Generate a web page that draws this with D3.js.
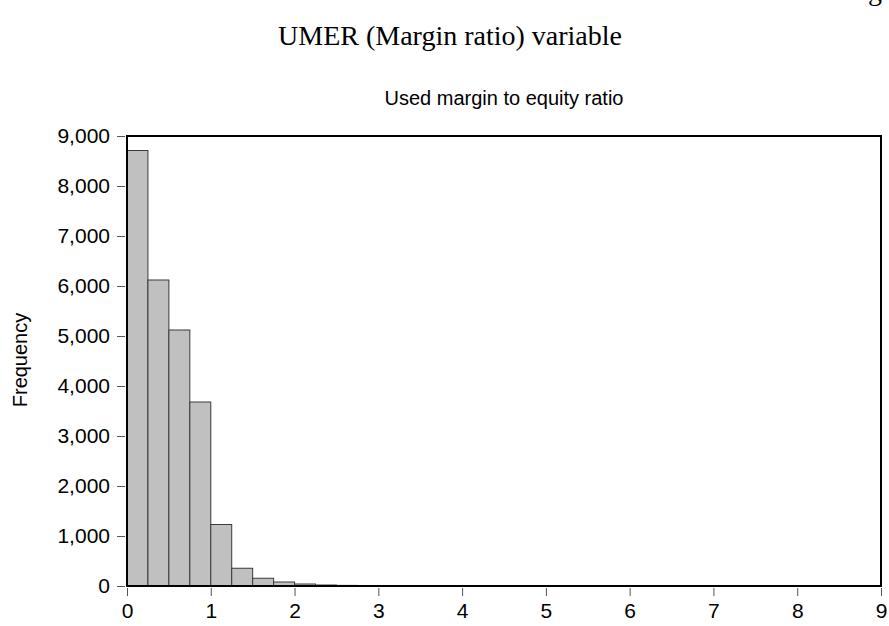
<!DOCTYPE html>
<html><head><meta charset="utf-8">
<script src="https://cdn.jsdelivr.net/npm/d3@7"></script>
<style>body{margin:0;background:#fff}svg{display:block}</style>
</head><body>
<svg id="c" width="889" height="626"></svg>
<script>
const binStarts = [0,0.25,0.5,0.75,1,1.25,1.5,1.75,2,2.25,2.5,2.75,3,3.25,3.5,3.75,4,4.25,4.5,4.75,5,5.25,5.5,5.75,6,6.25,6.5,6.75,7,7.25,7.5,7.75,8,8.25,8.5];
const counts =    [8710,6120,5120,3680,1230,355,155,80,40,20,12,8,5,4,3,3,2,2,2,1,2,1,1,2,1,1,1,1,1,1,1,1,1,1,1];
const binWidth = 0.25;
const xTicks = [0,1,2,3,4,5,6,7,8,9];
const yTicks = [0,1000,2000,3000,4000,5000,6000,7000,8000,9000];
const title = "UMER (Margin ratio) variable";
const subtitle = "Used margin to equity ratio";
const yLabel = "Frequency";

const svg = d3.select("#c");
const L = 127, R = 881, T = 136, B = 586;
const x = d3.scaleLinear().domain([0,9]).range([L,R]);
const y = d3.scaleLinear().domain([0,9000]).range([B,T]);
const serif = "Liberation Serif, Times New Roman, serif";
const sans = "Liberation Sans, Arial, sans-serif";

svg.append("text").attr("x",868).attr("y",0).attr("font-family",serif).attr("font-size",28).attr("fill","#000").text("g");
svg.append("text").attr("x",450).attr("y",45).attr("text-anchor","middle").attr("font-family",serif).attr("font-size",28).attr("fill","#000").text(title);
svg.append("text").attr("x",(L+R)/2).attr("y",105).attr("text-anchor","middle").attr("font-family",sans).attr("font-size",20).attr("fill","#000").text(subtitle);

svg.append("g").selectAll("rect").data(binStarts).join("rect")
  .attr("x",(d)=>x(d)).attr("width",(d)=>x(d+binWidth)-x(d))
  .attr("y",(d,i)=>y(counts[i])).attr("height",(d,i)=>B-y(counts[i]))
  .attr("fill","#c0c0c0").attr("stroke","#3a3a3a").attr("stroke-width",1);

const ya = svg.append("g").attr("transform",`translate(${L-2},0)`)
  .call(d3.axisLeft(y).tickValues(yTicks).tickSize(8).tickPadding(7).tickFormat(d3.format(",")));
ya.select(".domain").remove();
ya.selectAll("line").attr("stroke","#555");
ya.selectAll("text").attr("font-family",sans).attr("font-size",21).attr("fill","#000");

const xa = svg.append("g").attr("transform",`translate(0,${B+2})`)
  .call(d3.axisBottom(x).tickValues(xTicks).tickSize(8).tickPadding(7).tickFormat(d3.format("d")));
xa.select(".domain").remove();
xa.selectAll("line").attr("stroke","#555");
xa.selectAll("text").attr("font-family",sans).attr("font-size",21).attr("fill","#000");

svg.append("rect").attr("x",L).attr("y",T).attr("width",R-L).attr("height",B-T)
  .attr("fill","none").attr("stroke","#000").attr("stroke-width",2);

svg.append("text").attr("transform",`translate(27,360) rotate(-90)`).attr("text-anchor","middle")
  .attr("font-family",sans).attr("font-size",20).attr("fill","#000").text(yLabel);
</script>
</body></html>
